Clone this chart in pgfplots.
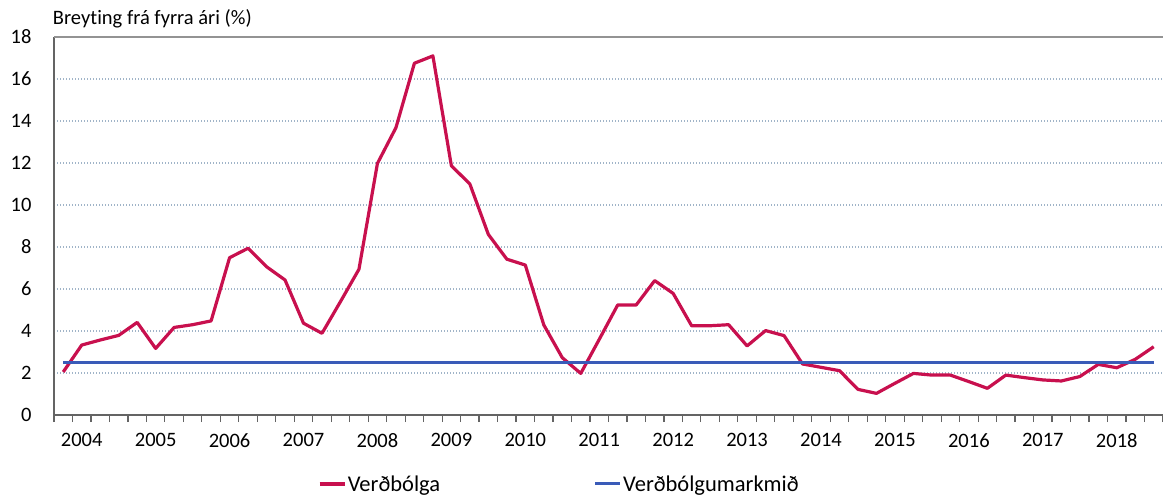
\documentclass[border=0pt]{standalone}
\usepackage{pgfplots}
\pgfplotsset{compat=1.18}
\usepackage{fontspec}
\setmainfont[Ligatures={NoCommon}]{Carlito}
\definecolor{infl}{RGB}{200,16,78}
\definecolor{target}{RGB}{58,91,184}
\definecolor{gridc}{RGB}{160,180,200}
\definecolor{axc}{RGB}{100,100,100}
\pgfplotstableread{
i v
0 2.05
1 3.33
2 3.57
3 3.79
4 4.41
5 3.17
6 4.17
7 4.30
8 4.48
9 7.49
10 7.94
11 7.06
12 6.43
13 4.37
14 3.89
15 5.40
16 6.94
17 11.98
18 13.68
19 16.75
20 17.10
21 11.87
22 11.00
23 8.60
24 7.42
25 7.14
26 4.29
27 2.73
28 1.98
29 3.60
30 5.24
31 5.24
32 6.40
33 5.79
34 4.25
35 4.25
36 4.30
37 3.29
38 4.02
39 3.78
40 2.43
41 2.27
42 2.11
43 1.22
44 1.03
45 1.51
46 1.98
47 1.90
48 1.90
49 1.59
50 1.27
51 1.90
52 1.78
53 1.67
54 1.62
55 1.83
56 2.41
57 2.25
58 2.65
59 3.25
}\infl
\begin{document}
\begin{tikzpicture}
\path[use as bounding box] (0,0) rectangle (1163bp,496bp);
\begin{axis}[
  at={(54bp,81bp)}, anchor=south west,
  scale only axis, width=1109bp, height=378bp,
  xmin=-0.5, xmax=59.5, ymin=0, ymax=18,
  axis x line=bottom, axis y line=left,
  axis line style={axc, line width=1.6bp, -},
  font=\fontsize{20.5bp}{24bp}\selectfont,
  /pgf/number format/assume math mode=true,
  ytick={0,2,...,18},
  ymajorgrids,
  major grid style={gridc, line width=1.2bp, dash pattern=on 1.2bp off 1.8bp},
  y tick style={draw=none},
  yticklabel style={xshift=-12bp},
  xtick={-0.5,0.5,...,59.5},
  xticklabels={},
  x tick style={axc, line width=1.2bp},
  major tick length=7bp,
  tick align=outside,
  extra x ticks={1,5,...,57},
  extra x tick labels={2004,2005,2006,2007,2008,2009,2010,2011,2012,2013,2014,2015,2016,2017,2018},
  extra x tick style={major tick length=0pt, tick style={draw=none}, grid=none,
    xticklabel style={yshift=-15bp}},
  legend columns=2,
  legend style={at={(axis description cs:0.238,-0.1825)}, anchor=west, draw=none, fill=none,
    inner sep=0pt, font=\fontsize{22.5bp}{26bp}\selectfont,
    /tikz/every even column/.append style={column sep=152bp},
    nodes={inner xsep=1.5bp, inner ysep=0pt}},
  legend image code/.code={\draw[#1] (0bp,0bp) -- (25bp,0bp);},
  clip=false,
]
\addplot[infl, line width=3.2bp, line join=round] table[x=i,y=v]{\infl};
\addlegendentry{Verðbólga}
\addplot[target, line width=3bp] coordinates {(0,2.5) (59,2.5)};
\addlegendentry{Verðbólgumarkmið}
\draw[axc!70, line width=2bp] (rel axis cs:0,1) -- (rel axis cs:1,1);
\node[anchor=base west, font=\fontsize{20.5bp}{24bp}\selectfont] at (axis cs:-0.75,18) [yshift=12bp] {Breyting frá fyrra ári (\%)};
\end{axis}
\end{tikzpicture}
\end{document}
